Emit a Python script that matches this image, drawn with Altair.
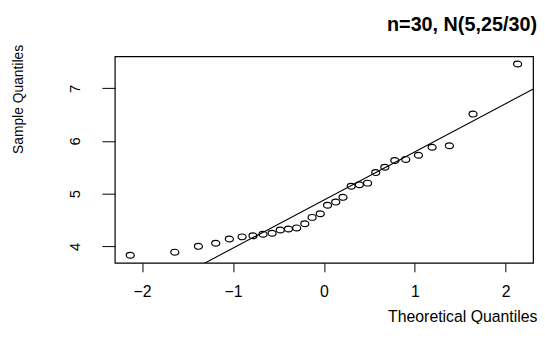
import altair as alt
import pandas as pd

# theoretical quantiles (x) and sample quantiles (y)
theoretical = [-2.13, -1.64, -1.38, -1.19, -1.04, -0.90, -0.78, -0.67, -0.57, -0.48,
               -0.39, -0.30, -0.21, -0.13, -0.04, 0.04, 0.13, 0.21, 0.30, 0.39,
               0.48, 0.57, 0.67, 0.78, 0.90, 1.04, 1.19, 1.38, 1.64, 2.13]
sample = [3.83, 3.89, 4.00, 4.06, 4.14, 4.18, 4.20, 4.23, 4.25, 4.31,
          4.33, 4.35, 4.43, 4.55, 4.62, 4.78, 4.84, 4.93, 5.14, 5.17,
          5.20, 5.40, 5.50, 5.63, 5.65, 5.73, 5.88, 5.91, 6.51, 7.46]

# reference line (qqline)
line_intercept = 4.88
line_slope = 0.914

x_ticks = [-2, -1, 0, 1, 2]
y_ticks = [4, 5, 6, 7]
x_domain = [-2.30, 2.30]
y_domain = [3.686, 7.608]

title_text = "n=30, N(5,25/30)"
x_title = "Theoretical Quantiles"
y_title = "Sample Quantiles"

pts = pd.DataFrame({"q": theoretical, "s": sample})
line_x = [x_domain[0] - 0.2, x_domain[1] + 0.2]
ln = pd.DataFrame({"q": line_x, "s": [line_intercept + line_slope * v for v in line_x]})
ttl = pd.DataFrame({"t": [title_text]})

ellipse = "M -1 0 A 1 0.72 0 1 0 1 0 A 1 0.72 0 1 0 -1 0 Z"

xs = alt.Scale(domain=x_domain, nice=False, zero=False)
ys = alt.Scale(domain=y_domain, nice=False, zero=False)

x_axis = alt.Axis(values=x_ticks, grid=False, domain=False, tickColor="black",
                  tickSize=9, labelFont="Liberation Sans", labelFontSize=16,
                  labelColor="black", labelPadding=20, labelBaseline="middle",
                  title=x_title, titleFont="Liberation Sans", titleFontSize=16,
                  titleFontWeight="normal", titleColor="black",
                  titleAnchor="end", titleAlign="right", titleX=427, titleY=59,
                  titleBaseline="alphabetic", format="d")
y_axis = alt.Axis(values=y_ticks, grid=False, domain=False, tickColor="black",
                  tickSize=13, labelFont="Liberation Sans", labelFontSize=15,
                  labelColor="black", labelAngle=270, labelAlign="center",
                  labelBaseline="middle", labelPadding=28,
                  title=y_title, titleFont="Liberation Sans", titleFontSize=14,
                  titleFontWeight="normal", titleColor="black",
                  titleAngle=270, titleAlign="right", titleAnchor="end",
                  titleX=-93, titleY=-12, titleBaseline="alphabetic", format="d")

points = alt.Chart(pts).mark_point(shape=ellipse, size=66, filled=False,
                                    color="black", strokeWidth=1.2, opacity=1).encode(
    x=alt.X("q:Q", scale=xs, axis=x_axis),
    y=alt.Y("s:Q", scale=ys, axis=y_axis),
)

qline = alt.Chart(ln).mark_line(color="black", strokeWidth=1.1, clip=True).encode(
    x=alt.X("q:Q", scale=xs),
    y=alt.Y("s:Q", scale=ys),
)

title_mark = alt.Chart(ttl).mark_text(
    font="Liberation Sans", fontSize=20, fontWeight="bold", color="black",
    align="right", baseline="alphabetic",
).encode(text="t:N", x=alt.value(427), y=alt.value(-26))

chart = alt.layer(points, qline, title_mark).properties(
    width=423, height=209,
    autosize=alt.AutoSizeParams(type="none"),
    padding={"left": 108, "top": 47, "right": 4, "bottom": 60},
).configure(
    background="white",
    view=alt.ViewConfig(stroke="black", strokeWidth=1.2),
)

chart.save("out.html", embed_options={"renderer": "svg", "actions": False})
